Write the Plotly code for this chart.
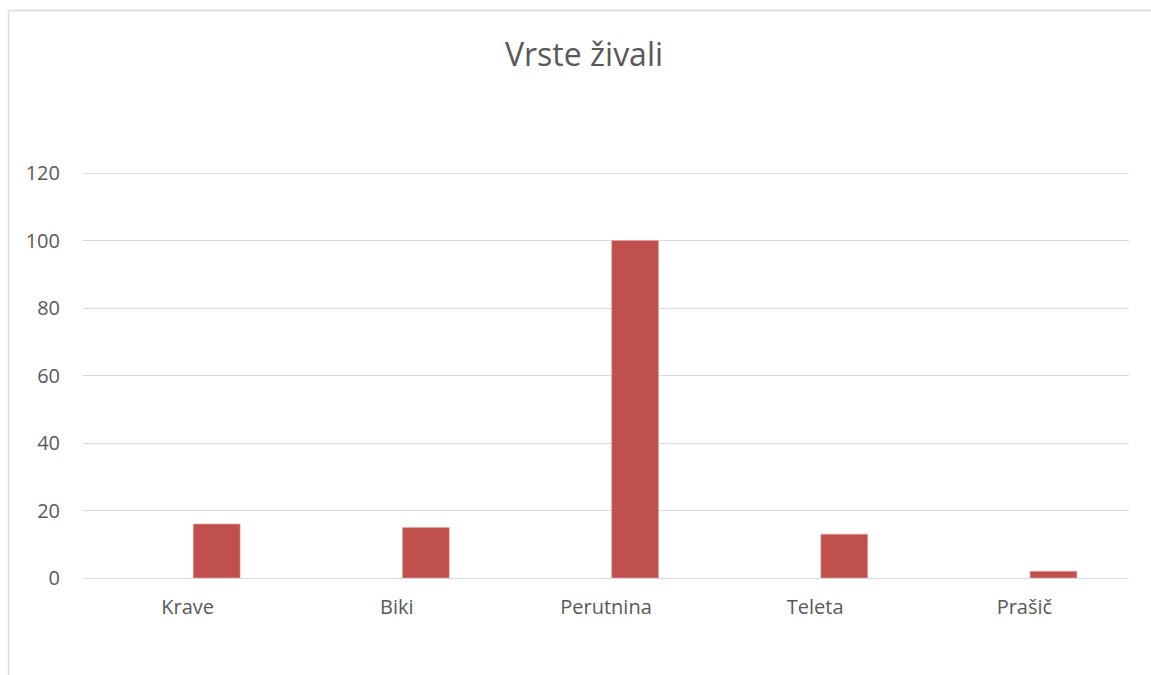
import plotly.graph_objects as go

categories = ["Krave", "Biki", "Perutnina", "Teleta", "Prašič"]
values = [16, 15, 100, 13, 2]
y_ticks = [0, 20, 40, 60, 80, 100, 120]
title_text = "Vrste živali"

W, H = 1151, 675
L, R, T, B = 83, 22, 172, 97
pw, ph = W - L - R, H - T - B

def px_x(p):
    return (p - L) / pw

def px_y(p):
    return (H - B - p) / ph

fig = go.Figure()
fig.add_trace(go.Bar(
    x=categories, y=values,
    marker=dict(color="#C0504D", line=dict(color="#E8A7A5", width=0.6)),
    width=0.224, offset=0.027,
    hoverinfo="x+y", showlegend=False,
))

grey = "#595959"
fig.update_layout(
    width=W, height=H,
    margin=dict(l=L, r=R, t=T, b=B),
    paper_bgcolor="white", plot_bgcolor="white",
    title=dict(text=title_text, xref="container", x=584 / W, xanchor="center",
               y=1 - 55 / H, yanchor="middle",
               font=dict(family="Open Sans", size=32, color=grey)),
    font=dict(family="Open Sans", color=grey, size=20),
    xaxis=dict(type="category", range=[-0.5, 4.5], showgrid=False, showline=False,
               ticks="", ticklabelstandoff=15, tickfont=dict(size=20, color=grey)),
    yaxis=dict(range=[0, 120.3], tickvals=y_ticks, showgrid=True, gridcolor="#D9D9D9",
               gridwidth=1, zeroline=True, zerolinecolor="#D9D9D9", zerolinewidth=1,
               showline=False, ticks="", ticklabelstandoff=22,
               tickfont=dict(size=20, color=grey)),
    shapes=[
        dict(type="line", xref="paper", yref="paper", x0=px_x(8.5), x1=px_x(8.5),
             y0=px_y(H + 5), y1=px_y(10.5), line=dict(color="#D9D9D9", width=1.5)),
        dict(type="line", xref="paper", yref="paper", x0=px_x(8.5), x1=px_x(W + 5),
             y0=px_y(10.5), y1=px_y(10.5), line=dict(color="#D9D9D9", width=1.5)),
    ],
)

fig.write_html("out.html", config={"displayModeBar": False},
               post_script="document.body.style.margin='0';document.body.style.overflow='hidden';")
